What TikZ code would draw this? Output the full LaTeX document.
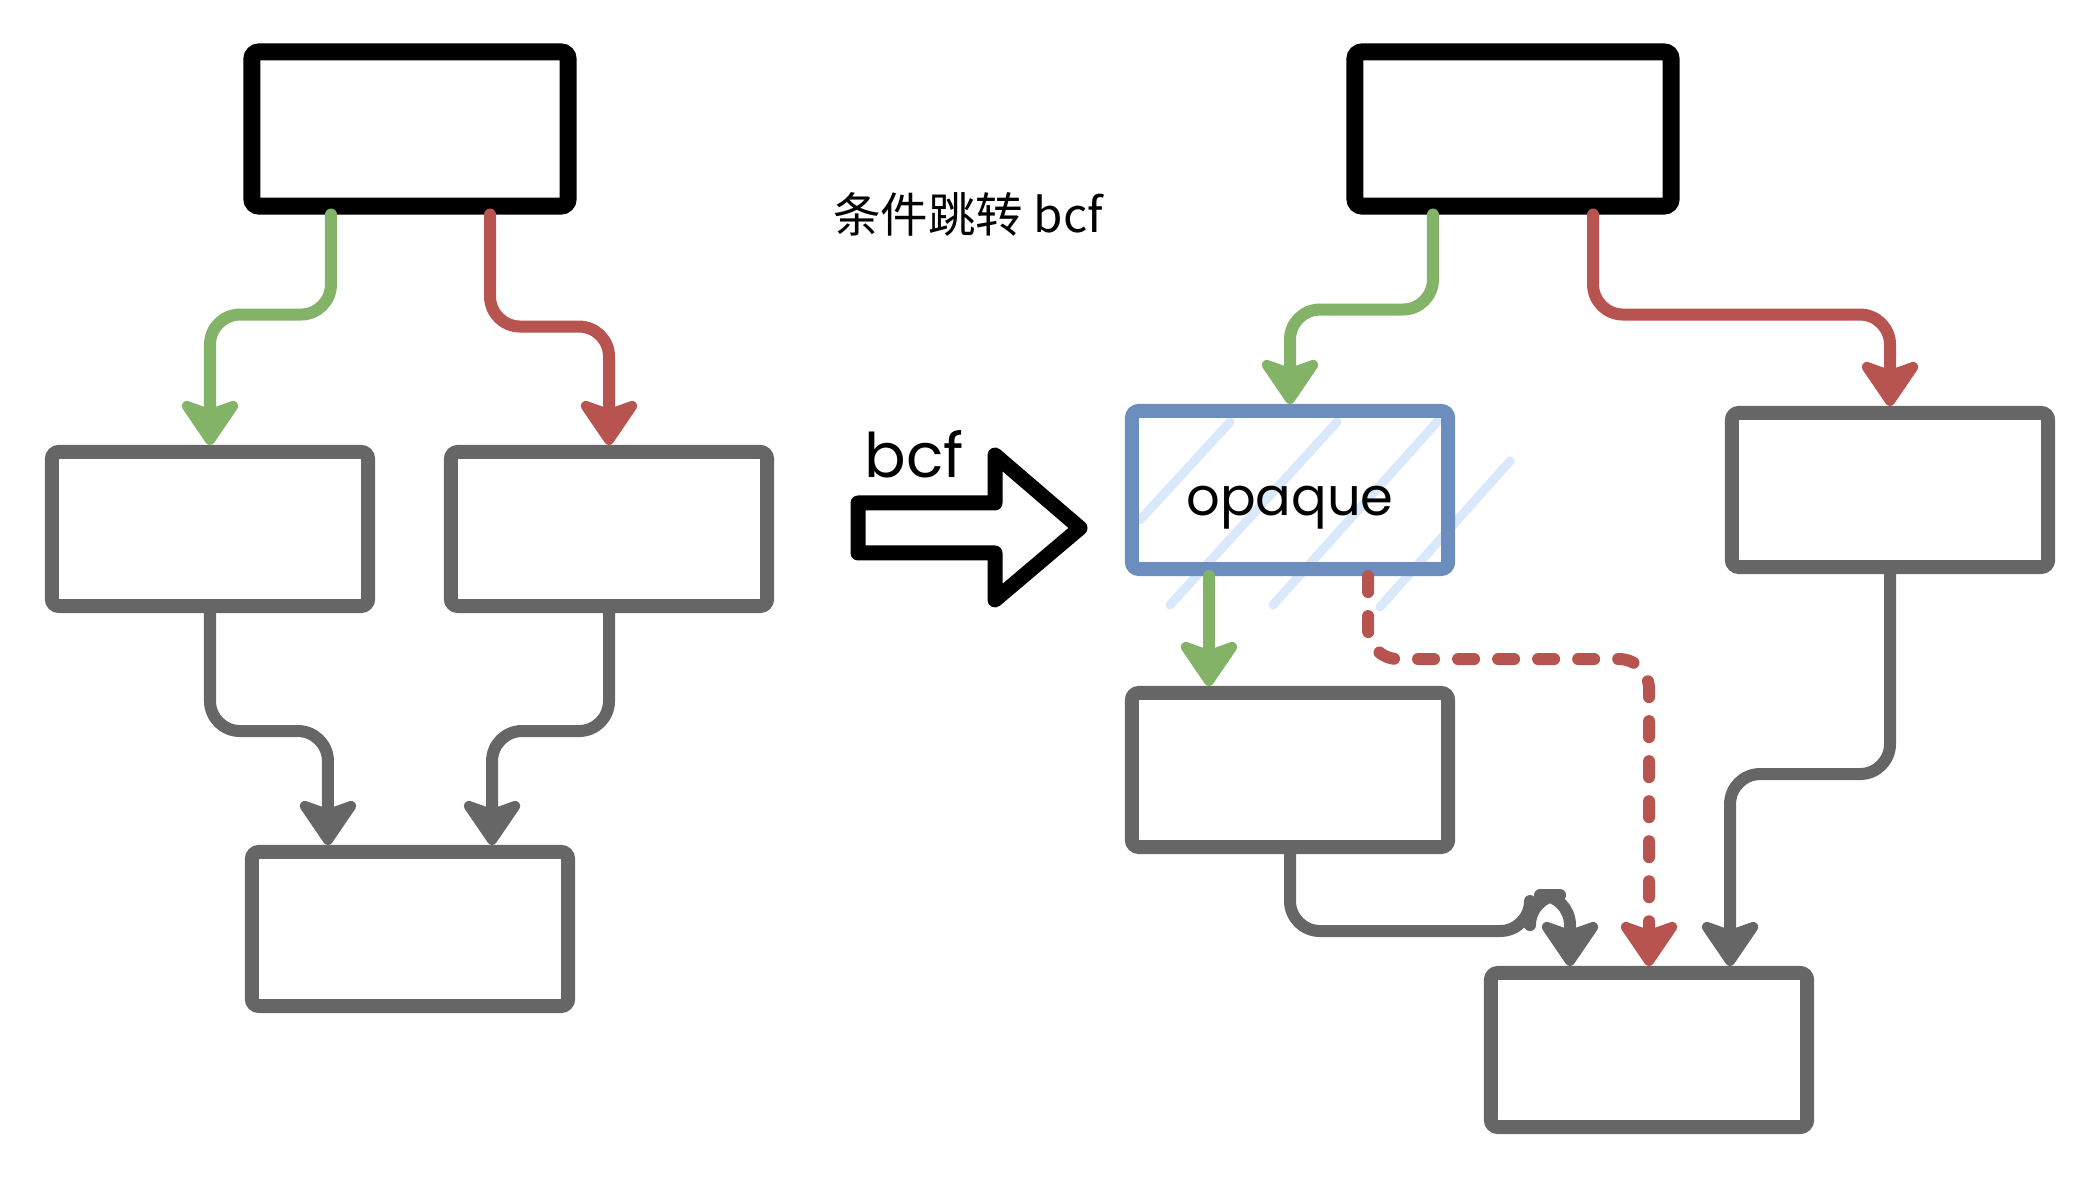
\documentclass[tikz,border=0pt]{standalone}
\usepackage{fontspec}
\setmainfont{Poppins}
\newfontfamily\cjkfont{Noto Sans CJK SC}
\usetikzlibrary{arrows.meta}

\definecolor{boxgray}{HTML}{666666}
\definecolor{flowgreen}{HTML}{82B366}
\definecolor{flowred}{HTML}{B85450}
\definecolor{opqblue}{HTML}{6C8EBF}
\definecolor{hatchblue}{HTML}{DAE8FC}

\begin{document}
\begin{tikzpicture}[x=0.01cm,y=-0.01cm,
  blockbox/.style={draw=boxgray,line width=0.14cm,rounded corners=2pt,
                   minimum width=3.16cm,minimum height=1.54cm,inner sep=0pt},
  headbox/.style={blockbox,draw=black,line width=0.17cm},
  opaquebox/.style={blockbox,draw=opqblue,minimum height=1.58cm,
                    font=\fontsize{15}{18}\selectfont},
  flow/.style={-{Stealth[length=0.52cm,width=0.7cm,inset=0.12cm,round]},
               line width=0.12cm,line cap=round,line join=round,rounded corners=0.3cm},
  hatch/.style={draw=hatchblue,line width=0.09cm,line cap=round},
  title/.style={font=\cjkfont\fontsize{13.5}{16}\selectfont},
]
\useasboundingbox (0,0) rectangle (2100,1180);

% Title
\node[title] (title) at (968,214) {条件跳转 bcf};

% Left: before
\node[headbox] (A) at (410,129) {};
\node[blockbox] (B) at (210,529) {};
\node[blockbox] (C) at (609,529) {};
\node[blockbox] (D) at (410,929) {};

\draw[flow,draw=flowgreen] ([xshift=-0.79cm]A.south) -- ++(0,100) -| (B.north);
\draw[flow,draw=flowred] ([xshift=0.8cm]A.south) -- ++(0,112) -| (C.north);
\draw[flow,draw=boxgray] (B.south) -- ++(0,118) -| ([xshift=-0.82cm]D.north);
\draw[flow,draw=boxgray] (C.south) -- ++(0,118) -| ([xshift=0.82cm]D.north);

% Transformation arrow
\draw[line width=0.15cm,line join=round]
  (858,503) -- (995,503) -- (995,455) -- (1080,528) -- (995,600)
  -- (995,553) -- (858,553) -- cycle;
\node[anchor=base west,font=\fontsize{17.5}{21}\selectfont] (bcflabel) at (852,478) {bcf};

% Right: after
\draw[hatch] (1140,520) -- (1230,422);
\draw[hatch] (1170,605) -- (1337,422);
\draw[hatch] (1273,605) -- (1437,422);
\draw[hatch] (1380,607) -- (1510,461);

\node[headbox] (E) at (1513,129) {};
\node[opaquebox] (F) at (1290,490) {\raisebox{-0.25cm}[0pt][0pt]{opaque}};
\node[blockbox] (G) at (1890,490) {};
\node[blockbox] (H) at (1290,770) {};
\node[blockbox] (I) at (1649,1050) {};

\draw[flow,draw=flowgreen] ([xshift=-0.8cm]E.south) -- ++(0,95) -| (F.north);
\draw[flow,draw=flowred] ([xshift=0.8cm]E.south) -- ++(0,100) -| (G.north);
\draw[flow,draw=flowgreen] ([xshift=-0.81cm]F.south) -- ([xshift=-0.81cm]H.north);
\draw[flow,draw=flowred,dash pattern=on 0.16cm off 0.24cm]
  ([xshift=0.78cm]F.south) -- ++(0,83) -| (I.north);
\draw[flow,draw=boxgray] (H.south) -- ++(0,77) -- ++(240,0) -- ++(0,-36)
  -- ++(40,0) -- ([xshift=-0.79cm]I.north);
\draw[flow,draw=boxgray] (G.south) -- ++(0,200) -| ([xshift=0.81cm]I.north);

\end{tikzpicture}
\end{document}
